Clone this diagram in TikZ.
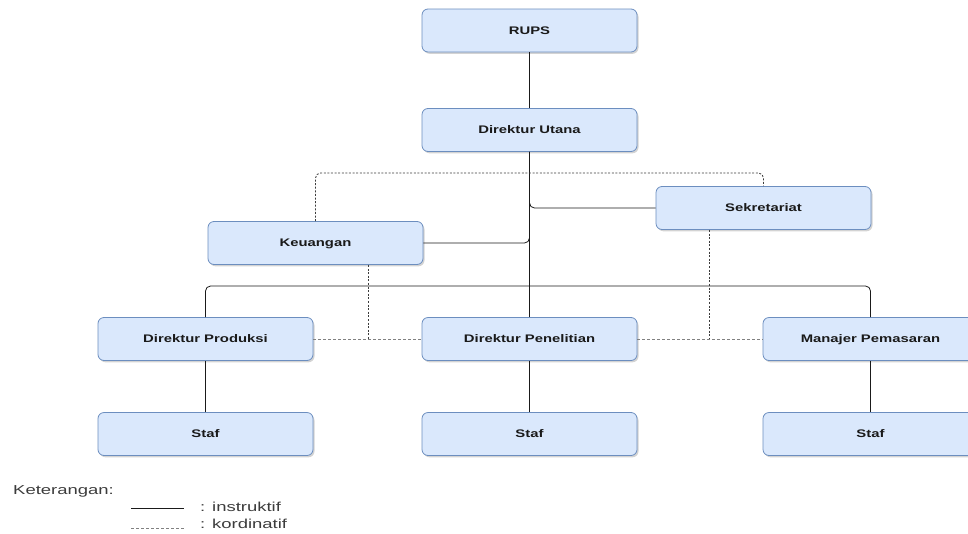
\documentclass[tikz,border=0pt]{standalone}
\usepackage{fontspec}
\setmainfont{Liberation Sans}
\newfontfamily\boxfont{Liberation Sans}[FakeStretch=1.35]
\newfontfamily\notefont{Liberation Sans}[FakeStretch=1.42]
\usetikzlibrary{shadows}
\definecolor{boxfill}{HTML}{DAE8FC}
\definecolor{boxline}{HTML}{6C8EBF}
\definecolor{ink}{HTML}{1A1A1A}
\tikzset{
  unit/.style={draw=boxline, fill=boxfill, rounded corners=6pt, line width=0.8pt,
    minimum width=215pt, minimum height=43pt, inner sep=0pt,
    text height=7.9pt, text depth=0pt,
    font=\boxfont\fontsize{11}{13}\selectfont\bfseries, text=ink,
    drop shadow={shadow xshift=1.5pt, shadow yshift=-1.8pt, opacity=0.35}},
  instr/.style={draw=ink, line width=0.8pt, rounded corners=5pt},
  koord/.style={draw=ink!85, line width=0.8pt, dash pattern=on 2pt off 1.6pt, rounded corners=5pt},
  koordh/.style={draw=ink!55, line width=0.8pt, dash pattern=on 3pt off 2pt},
  legendtext/.style={anchor=west, inner sep=0pt, text height=9.3pt, text depth=0pt,
    font=\notefont\fontsize{13}{15}\selectfont, text=ink!85}
}
\begin{document}
\begin{tikzpicture}[x=1pt, y=-1pt]
  \useasboundingbox (0,0) rectangle (968,533);
  \clip (0,0) rectangle (968,533);

  % organisation units
  \node[unit] (rups)  at (529.5, 30.5) {RUPS};
  \node[unit] (dirut) at (529.5, 130)  {Direktur Utana};
  \node[unit] (keu)   at (315.5, 243)  {Keuangan};
  \node[unit] (sek)   at (763.5, 208)  {Sekretariat};
  \node[unit] (prod)  at (205.5, 339)  {Direktur Produksi};
  \node[unit] (pen)   at (529.5, 339)  {Direktur Penelitian};
  \node[unit] (pem)   at (870.5, 339)  {Manajer Pemasaran};
  \node[unit] (staf1) at (205.5, 434)  {Staf};
  \node[unit] (staf2) at (529.5, 434)  {Staf};
  \node[unit] (staf3) at (870.5, 434)  {Staf};

  % helper points for the lines
  \coordinate (bar)    at (0, 286);
  \coordinate (top)    at (0, 173);
  \coordinate (keuout) at ([xshift=52.5pt]keu.south);
  \coordinate (keuend) at (keuout |- prod.east);
  \coordinate (sekout) at ([xshift=-54.5pt]sek.south);
  \coordinate (sekend) at (sekout |- pen.east);

  % instruction lines (solid)
  \draw[instr] (rups) -- (dirut);
  \draw[instr] (dirut) -- (pen);
  \draw[instr] (dirut.south) |- (keu.east);
  \draw[instr] (dirut.south) |- (sek.west);
  \draw[instr] (prod.north) |- (bar -| pen.north) -| (pem.north);
  \draw[instr] (prod) -- (staf1);
  \draw[instr] (pen) -- (staf2);
  \draw[instr] (pem) -- (staf3);

  % coordination lines (dotted and dashed)
  \draw[koord] (keu.north) -- (keu.north |- top) -| (sek.north);
  \draw[koordh] (prod.east) -- (pen.west);
  \draw[koordh] (pen.east) -- (pem.west);
  \draw[koord, rounded corners=0pt] (keuout) -- (keuend);
  \draw[koord, rounded corners=0pt] (sekout) -- (sekend);

  % legend
  \node[legendtext] (ket) at (13, 490) {Keterangan:};
  \coordinate (l1a) at (131, 508);
  \coordinate (l1b) at (184, 508);
  \coordinate (l2a) at (131, 528);
  \coordinate (l2b) at (184, 528);
  \draw[instr] (l1a) -- (l1b);
  \draw[koordh] (l2a) -- (l2b);
  \node[legendtext] (ins) at (200, 507) {: instruktif};
  \node[legendtext] (kor) at (200, 524) {: kordinatif};
\end{tikzpicture}
\end{document}
